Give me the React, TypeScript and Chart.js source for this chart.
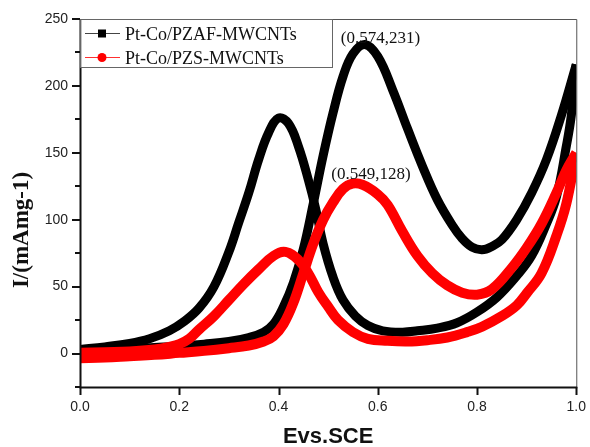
import { useEffect, useRef } from 'react';
import { Chart, registerables } from 'chart.js';
Chart.register(...registerables);

// Pt-Co/PZAF-MWCNTs (black squares) — forward sweep
const blackForwardE = [0.0, 0.05, 0.1, 0.15, 0.2, 0.25, 0.3, 0.34, 0.37, 0.39, 0.41, 0.43, 0.45, 0.47, 0.49, 0.51, 0.53, 0.55, 0.574, 0.6, 0.63, 0.66, 0.69, 0.72, 0.75, 0.77, 0.79, 0.81, 0.83, 0.85, 0.88, 0.91, 0.94, 0.97, 1.0];
const blackForwardI = [2, 2.5, 3.5, 4.5, 5.5, 7, 9, 12, 16, 22, 35, 53, 78, 112, 148, 180, 207, 224, 231, 222, 197, 168, 140, 115, 96, 86, 79.5, 77.5, 80, 85, 100, 120, 145, 178, 216];
// Pt-Co/PZAF-MWCNTs — reverse sweep (listed by increasing potential)
const blackReverseE = [0.0, 0.05, 0.1, 0.14, 0.18, 0.21, 0.24, 0.27, 0.3, 0.32, 0.34, 0.36, 0.38, 0.4, 0.42, 0.44, 0.46, 0.475, 0.49, 0.51, 0.53, 0.555, 0.58, 0.61, 0.65, 0.68, 0.72, 0.76, 0.8, 0.84, 0.88, 0.91, 0.94, 0.96, 0.98, 0.99, 1.0];
const blackReverseI = [3, 5, 7.5, 11, 17, 24, 34, 50, 76, 98, 120, 145, 165, 176, 172, 155, 130, 108, 82, 57, 40, 28, 21, 17, 16, 17, 19, 23, 31, 42, 58, 73, 97, 117, 155, 178, 216];

// Pt-Co/PZS-MWCNTs (red circles) — forward sweep
const redForwardE = [0.0, 0.05, 0.1, 0.15, 0.2, 0.25, 0.3, 0.34, 0.37, 0.39, 0.41, 0.43, 0.45, 0.47, 0.49, 0.51, 0.53, 0.549, 0.57, 0.6, 0.62, 0.65, 0.68, 0.71, 0.74, 0.77, 0.8, 0.83, 0.87, 0.9, 0.93, 0.96, 0.98, 1.0];
const redForwardI = [-3.5, -3, -2, -1, 0.5, 2, 4, 6, 9, 13, 22, 38, 60, 82, 100, 113, 123, 127, 126, 119, 111, 91, 73, 60, 51, 45.5, 44, 48, 64, 79, 97, 120, 137, 150];
// Pt-Co/PZS-MWCNTs — reverse sweep (listed by increasing potential)
const redReverseE = [0.0, 0.05, 0.1, 0.15, 0.18, 0.2, 0.22, 0.24, 0.27, 0.3, 0.33, 0.36, 0.39, 0.414, 0.44, 0.46, 0.48, 0.5, 0.52, 0.55, 0.58, 0.62, 0.66, 0.7, 0.74, 0.78, 0.81, 0.85, 0.88, 0.9, 0.93, 0.96, 0.98, 1.0];
const redReverseI = [0.5, 1, 1.5, 3, 5, 7, 11, 18, 28, 40, 52, 63, 73, 76, 70, 60, 46, 35, 25, 16, 11, 9.5, 9, 10, 12, 16, 20, 28, 36, 45, 60, 88, 112, 150];

const seriesNames = ['Pt-Co/PZAF-MWCNTs', 'Pt-Co/PZS-MWCNTs'];
const peakLabels = ['(0.574,231)', '(0.549,128)'];
const xMajorTicks = [0, 0.2, 0.4, 0.6, 0.8, 1.0];
const yMajorTicks = [0, 50, 100, 150, 200, 250];
const yMinorTicks = [-25, 25, 75, 125, 175, 225];

const pts = (e: number[], i: number[]) => e.map((x, k) => ({ x, y: i[k] }));

const overlay = {
  id: 'overlay',
  afterDraw(chart: any) {
    const { ctx, chartArea: a, scales } = chart;
    const xs = scales.x;
    const ys = scales.y;
    ctx.save();
    // frame (top/right)
    ctx.strokeStyle = '#555';
    ctx.lineWidth = 1;
    ctx.beginPath();
    ctx.moveTo(a.left, a.top + 0.5);
    ctx.lineTo(a.right + 0.5, a.top + 0.5);
    ctx.lineTo(a.right + 0.5, a.bottom);
    ctx.stroke();
    // axes
    ctx.strokeStyle = '#111';
    ctx.lineWidth = 2;
    ctx.beginPath();
    ctx.moveTo(a.left + 0.5, a.top);
    ctx.lineTo(a.left + 0.5, a.bottom + 1.5);
    ctx.moveTo(a.left, a.bottom + 0.5);
    ctx.lineTo(a.right + 1, a.bottom + 0.5);
    ctx.stroke();
    // ticks
    ctx.beginPath();
    yMajorTicks.forEach((v) => {
      const py = Math.round(ys.getPixelForValue(v));
      ctx.moveTo(a.left - 8, py);
      ctx.lineTo(a.left, py);
    });
    yMinorTicks.forEach((v) => {
      const py = Math.round(ys.getPixelForValue(v));
      ctx.moveTo(a.left - 5, py);
      ctx.lineTo(a.left, py);
    });
    xMajorTicks.forEach((v) => {
      const px = Math.round(xs.getPixelForValue(v)) + 0.5;
      ctx.moveTo(px, a.bottom);
      ctx.lineTo(px, a.bottom + 8);
    });
    ctx.stroke();
    // legend
    ctx.fillStyle = '#fff';
    ctx.strokeStyle = '#666';
    ctx.lineWidth = 1;
    ctx.fillRect(a.left + 1.5, a.top + 1, 251, 47);
    ctx.strokeRect(a.left + 0.5, a.top + 0.5, 252, 48);
    const rows = [33.5, 57.5];
    const colors = ['#000', '#ff0000'];
    rows.forEach((ry, k) => {
      ctx.strokeStyle = k === 0 ? '#444' : '#ff3030';
      ctx.lineWidth = 1;
      ctx.beginPath();
      ctx.moveTo(85, ry);
      ctx.lineTo(120, ry);
      ctx.stroke();
      ctx.fillStyle = colors[k];
      if (k === 0) {
        ctx.fillRect(98, ry - 4, 8, 8);
      } else {
        ctx.beginPath();
        ctx.arc(102, ry, 4.5, 0, Math.PI * 2);
        ctx.fill();
      }
      ctx.fillStyle = '#111';
      ctx.font = '18px "Liberation Serif"';
      ctx.textAlign = 'left';
      ctx.textBaseline = 'alphabetic';
      ctx.fillText(seriesNames[k], 125, ry + 6.5);
    });
    // peak annotations
    ctx.fillStyle = '#111';
    ctx.font = '17px "Liberation Serif"';
    ctx.textAlign = 'center';
    ctx.fillText(peakLabels[0], 380.5, 43);
    ctx.fillText(peakLabels[1], 371, 179);
    // axis titles
    ctx.font = 'bold 22px "Liberation Sans"';
    ctx.textBaseline = 'middle';
    ctx.fillText('Evs.SCE', (a.left + a.right) / 2, 437);
    ctx.translate(22, 230);
    ctx.rotate(-Math.PI / 2);
    ctx.font = 'bold 23px "Liberation Serif"';
    ctx.fillText('I/(mAmg-1)', 0, 0);
    ctx.restore();
  },
};

export default function App() {
  const ref = useRef<HTMLCanvasElement>(null);
  useEffect(() => {
    document.body.style.margin = '0';
    const mk = (data: any, color: string, width: number) => ({
      data,
      borderColor: color,
      backgroundColor: color,
      borderWidth: width,
      pointRadius: 0,
      tension: 0.4,
      fill: false,
      clip: 0,
    });
    const chart = new Chart(ref.current as HTMLCanvasElement, {
      type: 'line',
      data: {
        datasets: [
          mk(pts(redForwardE, redForwardI), '#ff0000', 10),
          mk(pts(redReverseE, redReverseI), '#ff0000', 10),
          mk(pts(blackForwardE, blackForwardI), '#000000', 9),
          mk(pts(blackReverseE, blackReverseI), '#000000', 9),
        ] as any,
      },
      options: {
        animation: false,
        responsive: false,
        layout: { padding: { top: 19, right: 11, left: 0, bottom: 0 } },
        plugins: { legend: { display: false }, tooltip: { enabled: false } },
        scales: {
          x: {
            type: 'linear',
            min: 0,
            max: 1,
            afterFit: (s: any) => { s.height = 60; },
            ticks: {
              stepSize: 0.2,
              callback: (v: any) => Number(v).toFixed(1),
              font: { family: '"Liberation Sans"', size: 14 },
              color: '#222',
              padding: 4,
              maxRotation: 0,
            },
            grid: { display: true, drawOnChartArea: false, drawTicks: true, tickLength: 8, tickColor: 'rgba(0,0,0,0)' },
            border: { display: false },
          },
          y: {
            type: 'linear',
            min: -25,
            max: 250,
            afterFit: (s: any) => { s.width = 80; },
            ticks: {
              stepSize: 25,
              callback: (v: any) => (Number(v) % 50 === 0 ? String(v) : ''),
              font: { family: '"Liberation Sans"', size: 14 },
              color: '#222',
              padding: 4,
            },
            grid: { display: true, drawOnChartArea: false, drawTicks: true, tickLength: 8, tickColor: 'rgba(0,0,0,0)' },
            border: { display: false },
          },
        },
      },
      plugins: [overlay],
    });
    return () => chart.destroy();
  }, []);
  return <canvas ref={ref} width={590} height={447} style={{ display: 'block' }} />;
}
